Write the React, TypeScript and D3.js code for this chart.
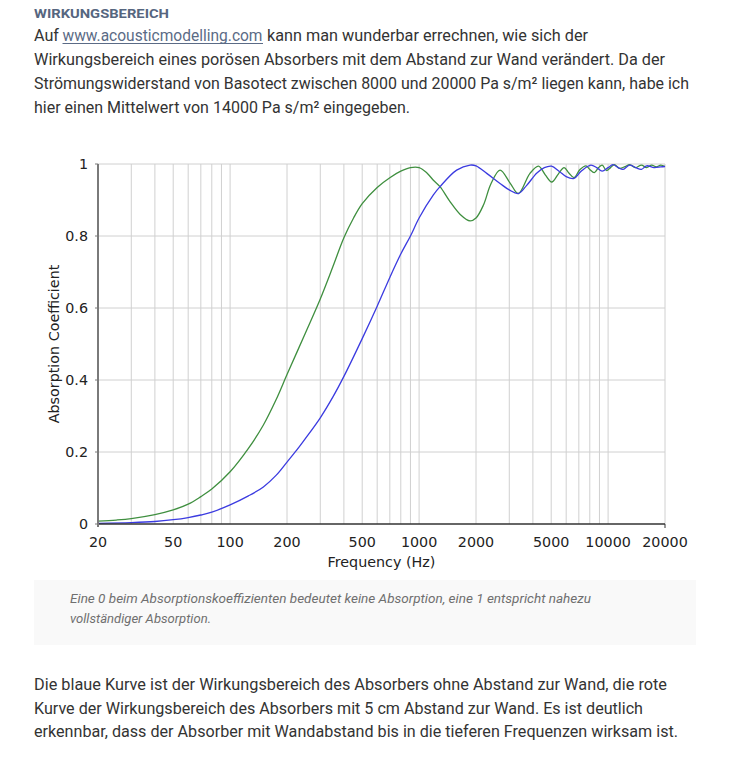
import React from "react";
import * as d3 from "d3";

const greenFreq = [20,25,30,40,50,60,70,80,100,125,150,175,200,250,300,350,400,450,500,600,700,800,900,1000,1100,1190,1290,1460,1650,1860,2000,2190,2400,2680,3030,3350,3860,4280,4650,5030,5450,5850,6200,6600,7100,7650,8000,8450,8900,9300,9800,10300,10800,11500,12300,13000,14000,15000,16000,17000,18000,19000,20000];
const greenAlpha = [0.008,0.011,0.015,0.026,0.039,0.055,0.076,0.097,0.145,0.21,0.275,0.345,0.415,0.53,0.625,0.715,0.795,0.85,0.89,0.935,0.962,0.98,0.99,0.99,0.975,0.955,0.937,0.895,0.86,0.842,0.85,0.886,0.945,0.983,0.947,0.918,0.974,0.994,0.97,0.95,0.972,0.99,0.975,0.962,0.985,0.995,0.985,0.976,0.99,0.997,0.982,0.99,0.998,0.988,0.993,0.998,0.99,0.997,0.99,0.997,0.992,0.997,0.993];

const blueFreq = [20,30,40,50,60,70,80,100,125,150,175,200,225,250,300,350,400,500,600,700,800,900,1000,1190,1290,1580,1860,2000,2280,2680,3000,3350,3700,4200,4600,5020,5500,6000,6600,7200,8100,8700,9300,10000,10600,11300,12000,13000,14000,15000,16000,17500,19000,20000];
const blueAlpha = [0.002,0.004,0.007,0.012,0.018,0.025,0.033,0.053,0.078,0.103,0.135,0.172,0.205,0.237,0.295,0.353,0.41,0.515,0.605,0.685,0.75,0.80,0.85,0.914,0.937,0.983,0.997,0.995,0.974,0.946,0.928,0.918,0.94,0.975,0.99,0.994,0.98,0.965,0.96,0.98,0.997,0.99,0.98,0.99,0.998,0.99,0.985,0.997,0.99,0.985,0.995,0.99,0.992,0.993];

const xTickLabels = [20, 50, 100, 200, 500, 1000, 2000, 5000, 10000, 20000];
const xGridValues = [30,40,50,60,70,80,90,100,200,300,400,500,600,700,800,900,1000,2000,3000,4000,5000,6000,7000,8000,9000,10000,20000];
const yTicks = [0, 0.2, 0.4, 0.6, 0.8, 1];
const yTickLabels = ["0", "0.2", "0.4", "0.6", "0.8", "1"];

const heading = "WIRKUNGSBEREICH";
const introLines = [
  "Wirkungsbereich eines porösen Absorbers mit dem Abstand zur Wand verändert. Da der",
  "Strömungswiderstand von Basotect zwischen 8000 und 20000 Pa s/m² liegen kann, habe ich",
  "hier einen Mittelwert von 14000 Pa s/m² eingegeben.",
];
const captionLines = [
  "Eine 0 beim Absorptionskoeffizienten bedeutet keine Absorption, eine 1 entspricht nahezu",
  "vollständiger Absorption.",
];
const outroLines = [
  "Die blaue Kurve ist der Wirkungsbereich des Absorbers ohne Abstand zur Wand, die rote",
  "Kurve der Wirkungsbereich des Absorbers mit 5 cm Abstand zur Wand. Es ist deutlich",
  "erkennbar, dass der Absorber mit Wandabstand bis in die tieferen Frequenzen wirksam ist.",
];

const bodyFont = "'Liberation Sans Narrow', 'Roboto', 'Liberation Sans', sans-serif";
const chartFont = "'DejaVu Sans', Verdana, sans-serif";

export default function App() {
  const x = d3.scaleLog().domain([20, 20000]).range([98, 665]);
  const y = d3.scaleLinear().domain([0, 1]).range([524, 164]);
  const line = d3
    .line<[number, number]>()
    .x((d) => x(d[0]))
    .y((d) => y(d[1]))
    .curve(d3.curveCatmullRom.alpha(0.5));
  const green = line(greenFreq.map((f, i) => [f, greenAlpha[i]] as [number, number])) || "";
  const blue = line(blueFreq.map((f, i) => [f, blueAlpha[i]] as [number, number])) || "";

  const introW = [631, 655, 376];
  const outroW = [633, 609, 644];
  const captionW = [521, 141];
  const fs = 16.8;

  return (
    <svg
      width={750}
      height={768}
      style={{ position: "absolute", left: 0, top: 0, background: "#fff" }}
    >
      <rect x={0} y={0} width={750} height={768} fill="#fff" />
      <text x={34} y={18} fontFamily={bodyFont} fontWeight="bold" fontSize={12.5} fill="#56667f" textLength={135} lengthAdjust="spacingAndGlyphs">
        {heading}
      </text>
      <text x={34} y={41} fontFamily={bodyFont} fontSize={fs} fill="#333" textLength={25} lengthAdjust="spacingAndGlyphs">Auf</text>
      <text x={62.5} y={41} fontFamily={bodyFont} fontSize={fs} fill="#5b6b86" textLength={200} lengthAdjust="spacingAndGlyphs">www.acousticmodelling.com</text>
      <line x1={62.5} x2={263} y1={43.5} y2={43.5} stroke="#5b6b86" strokeWidth={1} />
      <text x={267} y={41} fontFamily={bodyFont} fontSize={fs} fill="#333" textLength={321} lengthAdjust="spacingAndGlyphs">kann man wunderbar errechnen, wie sich der</text>
      {introLines.map((t, i) => (
        <text key={t} x={34} y={65 + i * 24} fontFamily={bodyFont} fontSize={fs} fill="#333" textLength={introW[i]} lengthAdjust="spacingAndGlyphs">
          {t}
        </text>
      ))}

      {yTicks.slice(1).map((v) => (
        <line key={"h" + v} x1={x(20)} x2={x(20000)} y1={y(v)} y2={y(v)} stroke="#d0d0d0" strokeWidth={1} />
      ))}
      {xGridValues.map((v) => (
        <line key={"v" + v} x1={x(v)} x2={x(v)} y1={y(1)} y2={y(0)} stroke="#d0d0d0" strokeWidth={1} />
      ))}

      <path d={green} fill="none" stroke="#3f8f3f" strokeWidth={1.3} />
      <path d={blue} fill="none" stroke="#3b3be0" strokeWidth={1.3} />

      <line x1={x(20)} x2={x(20000)} y1={y(0)} y2={y(0)} stroke="#333" strokeWidth={1.5} />
      <line x1={x(20000)} x2={x(20000)} y1={y(0)} y2={y(0) + 4} stroke="#333" strokeWidth={1} />
      <line x1={x(20)} x2={x(20)} y1={y(1)} y2={y(0) + 3} stroke="#7a7a7a" strokeWidth={2} />
      {yTicks.map((v, i) => (
        <g key={"yt" + v}>
          <line x1={x(20) - 3} x2={x(20)} y1={y(v)} y2={y(v)} stroke="#7a7a7a" strokeWidth={1} />
          <text x={88} y={y(v)} dy="0.35em" textAnchor="end" fontFamily={chartFont} fontSize={14.3} fill="#222">
            {yTickLabels[i]}
          </text>
        </g>
      ))}
      {xTickLabels.map((v) => (
        <text key={"xt" + v} x={x(v)} y={546.5} textAnchor="middle" fontFamily={chartFont} fontSize={14.3} fill="#222">
          {String(v)}
        </text>
      ))}
      <text x={381.5} y={566.5} textAnchor="middle" fontFamily={chartFont} fontSize={14.3} fill="#222">
        Frequency (Hz)
      </text>
      <text transform="translate(59,344) rotate(-90)" textAnchor="middle" fontFamily={chartFont} fontSize={14.3} fill="#222">
        Absorption Coefficient
      </text>

      <rect x={34} y={580} width={662} height={65} fill="#f9f9f9" />
      {captionLines.map((t, i) => (
        <text key={t} x={70} y={603 + i * 20} fontFamily={bodyFont} fontStyle="italic" fontSize={13.5} fill="#6f6f6f" textLength={captionW[i]} lengthAdjust="spacingAndGlyphs">
          {t}
        </text>
      ))}

      {outroLines.map((t, i) => (
        <text key={t} x={34} y={690 + i * 23.5} fontFamily={bodyFont} fontSize={fs} fill="#333" textLength={outroW[i]} lengthAdjust="spacingAndGlyphs">
          {t}
        </text>
      ))}
    </svg>
  );
}
